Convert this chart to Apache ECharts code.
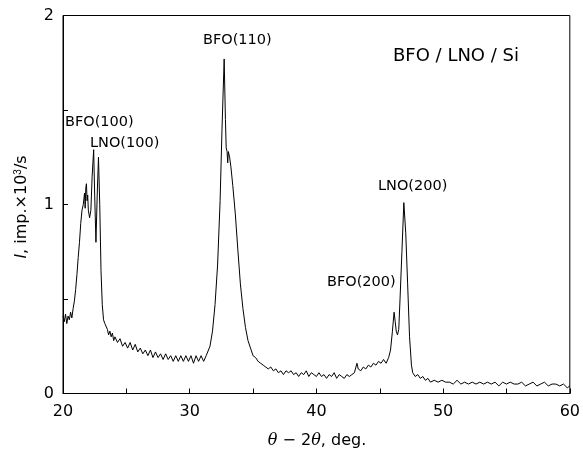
<!DOCTYPE html>
<html><head><meta charset="utf-8">
<script src="https://cdn.jsdelivr.net/npm/echarts@6/dist/echarts.min.js"></script>
<style>html,body{margin:0;padding:0;background:#fff}#c{width:583px;height:460px}</style>
</head><body><div id="c"></div>
<script>
var twoTheta = [20.0,20.1,20.2,20.3,20.4,20.5,20.6,20.7,20.8,20.9,21.0,21.1,21.2,21.3,21.4,21.5,21.6,21.7,21.75,21.8,21.85,21.9,21.95,22.0,22.1,22.2,22.3,22.42,22.5,22.6,22.7,22.8,22.9,23.0,23.1,23.2,23.3,23.4,23.5,23.6,23.7,23.8,23.9,24.0,24.1,24.2,24.3,24.4,24.5,24.6,24.7,24.8,24.9,25.0,25.1,25.2,25.3,25.4,25.5,25.6,25.7,25.8,25.9,26.0,26.1,26.2,26.3,26.4,26.5,26.6,26.7,26.8,26.9,27.0,27.1,27.2,27.3,27.4,27.5,27.6,27.7,27.8,27.9,28.0,28.1,28.2,28.3,28.4,28.5,28.6,28.7,28.8,28.9,29.0,29.1,29.2,29.3,29.4,29.5,29.6,29.7,29.8,29.9,30.0,30.1,30.2,30.3,30.4,30.5,30.6,30.7,30.8,30.9,31.0,31.1,31.2,31.3,31.4,31.6,31.8,32.0,32.2,32.4,32.55,32.72,32.82,32.88,32.95,33.0,33.05,33.15,33.25,33.4,33.6,33.8,34.0,34.2,34.4,34.6,34.8,35.0,35.2,35.4,35.6,35.8,36.0,36.2,36.4,36.6,36.8,37.0,37.2,37.4,37.6,37.8,38.0,38.2,38.4,38.6,38.8,39.0,39.2,39.4,39.6,39.8,40.0,40.2,40.4,40.6,40.8,41.0,41.2,41.4,41.6,41.8,42.0,42.2,42.4,42.6,42.8,43.0,43.2,43.3,43.5,43.7,43.9,44.1,44.3,44.5,44.7,44.9,45.1,45.3,45.5,45.7,45.85,46.0,46.13,46.22,46.3,46.4,46.5,46.6,46.75,46.9,47.05,47.2,47.35,47.5,47.6,47.8,48.0,48.2,48.4,48.6,48.8,49.0,49.3,49.6,49.9,50.2,50.5,50.8,51.1,51.4,51.7,52.0,52.3,52.6,52.9,53.2,53.5,53.8,54.1,54.4,54.7,55.0,55.3,55.6,55.9,56.2,56.5,56.8,57.1,57.4,57.7,58.0,58.3,58.6,58.9,59.2,59.5,59.8,60.0];
var intensity = [0.41,0.38,0.42,0.37,0.41,0.39,0.43,0.40,0.45,0.49,0.55,0.63,0.72,0.80,0.90,0.97,1.00,1.06,0.98,1.09,1.11,1.02,1.05,0.97,0.93,0.97,1.15,1.29,1.05,0.80,1.05,1.25,1.00,0.65,0.47,0.39,0.37,0.36,0.34,0.31,0.33,0.30,0.32,0.28,0.30,0.29,0.27,0.26,0.29,0.28,0.25,0.25,0.27,0.27,0.24,0.24,0.27,0.26,0.23,0.23,0.26,0.25,0.22,0.22,0.24,0.24,0.21,0.21,0.23,0.23,0.20,0.21,0.23,0.22,0.19,0.20,0.22,0.21,0.19,0.19,0.21,0.21,0.18,0.19,0.21,0.20,0.18,0.18,0.20,0.20,0.17,0.18,0.20,0.20,0.17,0.18,0.20,0.19,0.17,0.17,0.20,0.20,0.17,0.18,0.20,0.19,0.16,0.17,0.20,0.20,0.17,0.18,0.20,0.19,0.17,0.18,0.20,0.21,0.25,0.33,0.47,0.68,1.02,1.40,1.77,1.45,1.30,1.28,1.22,1.28,1.25,1.20,1.10,0.95,0.76,0.58,0.45,0.35,0.28,0.24,0.20,0.19,0.17,0.16,0.15,0.14,0.13,0.14,0.12,0.13,0.11,0.12,0.10,0.12,0.11,0.12,0.10,0.11,0.09,0.11,0.10,0.12,0.09,0.11,0.10,0.09,0.11,0.09,0.10,0.08,0.10,0.09,0.11,0.08,0.10,0.09,0.08,0.10,0.09,0.10,0.11,0.16,0.13,0.12,0.14,0.13,0.15,0.14,0.16,0.15,0.17,0.16,0.18,0.16,0.19,0.23,0.33,0.43,0.38,0.33,0.31,0.34,0.50,0.75,1.01,0.85,0.58,0.30,0.15,0.11,0.09,0.10,0.08,0.09,0.07,0.08,0.06,0.07,0.06,0.07,0.06,0.06,0.05,0.07,0.05,0.06,0.05,0.06,0.05,0.06,0.05,0.06,0.05,0.06,0.04,0.06,0.05,0.06,0.05,0.05,0.06,0.04,0.05,0.06,0.04,0.05,0.06,0.04,0.05,0.05,0.04,0.05,0.03,0.04];
var xTickLabels = ['20','30','40','50','60'];
var yTickLabels = ['0','1','2'];
var peakLabels = ['BFO(100)','LNO(100)','BFO(110)','BFO(200)','LNO(200)'];
var sampleLabel = 'BFO / LNO / Si';

var chart = echarts.init(document.getElementById('c'), null, {renderer:'canvas'});
var pts = twoTheta.map(function(x,i){return [x,intensity[i]];});
var F = 'DejaVu Sans';
function anno(txt,x,y,size){
  return {type:'text',x:x,y:y,style:{text:txt,fontFamily:F,fontSize:size,fill:'#000',align:'left',verticalAlign:'middle'}};
}
chart.setOption({
  animation:false,
  grid:{left:63,right:11.5,top:15.5,bottom:66.5,show:true,borderColor:'#000',borderWidth:1,backgroundColor:'transparent'},
  xAxis:{type:'value',min:20,max:60,interval:5,
    axisLine:{lineStyle:{color:'#000',width:1}},
    axisTick:{inside:true,length:5,lineStyle:{color:'#000'}},
    splitLine:{show:false},
    axisLabel:{fontFamily:F,fontSize:16,color:'#000',margin:10,
      formatter:function(v){var s=String(v);return xTickLabels.indexOf(s)>=0?s:'';}}
  },
  yAxis:{type:'value',min:0,max:2,interval:0.5,
    axisLine:{show:true,lineStyle:{color:'#000',width:1}},
    axisTick:{show:true,inside:true,length:5,lineStyle:{color:'#000'}},
    splitLine:{show:false},
    axisLabel:{fontFamily:F,fontSize:16,color:'#000',margin:9,
      formatter:function(v){var s=String(v);return yTickLabels.indexOf(s)>=0?s:'';}}
  },
  series:[{type:'line',data:pts,showSymbol:false,symbol:'none',lineStyle:{color:'#000',width:1},silent:true}],
  graphic:[
    anno(peakLabels[0],65,122,14.5),
    anno(peakLabels[1],90,143,14.5),
    anno(peakLabels[2],203,40,14.5),
    anno(peakLabels[3],327,282,14.5),
    anno(peakLabels[4],378,186,14.5),
    anno(sampleLabel,393,56,18),
    {type:'text',x:22,y:207,rotation:Math.PI/2,style:{
      text:'{i|I}, imp.×10{s|3}/s',fontFamily:F,fontSize:16,fill:'#000',align:'center',verticalAlign:'middle',
      rich:{i:{fontStyle:'italic',fontFamily:F,fontSize:16},s:{fontSize:10,verticalAlign:'top',padding:[0,0,8,0]}}}},
    {type:'text',x:317,y:441,style:{
      text:'{t|θ} − 2{t|θ}, deg.',fontFamily:F,fontSize:16,fill:'#000',align:'center',verticalAlign:'middle',
      rich:{t:{fontStyle:'italic',fontFamily:'DejaVu Serif',fontSize:16}}}}
  ]
});
</script></body></html>
